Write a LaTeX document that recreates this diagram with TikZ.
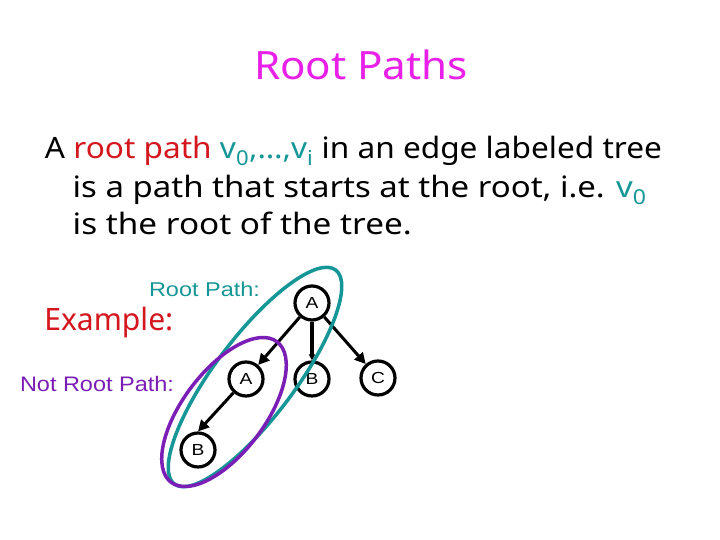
\documentclass[tikz,border=0pt]{standalone}
\usepackage{fontspec}
\setmainfont{Noto Sans}
\newfontfamily\arialf{Liberation Sans}
\usetikzlibrary{arrows.meta}
\definecolor{ttlc}{RGB}{232,32,232}
\definecolor{redc}{RGB}{212,22,30}
\definecolor{tealc}{RGB}{22,150,150}
\definecolor{purc}{RGB}{122,30,182}
\tikzset{
  txt/.style={anchor=base west, inner sep=0pt, outer sep=0pt},
  vtx/.style={circle, draw=black, line width=3.2pt, minimum size=34pt, inner sep=0pt, font=\arialf\fontsize{16}{16}\selectfont},
  arr/.style={line width=3pt, -{Triangle[length=11pt,width=11pt]}},
  ring/.style={line width=3.5pt}
}
\newcommand\hfit[2]{\resizebox{#1}{\height}{#2}}
\begin{document}
\begin{tikzpicture}[x=1pt,y=-1pt]
\useasboundingbox[fill=white] (0,0) rectangle (720,540);
% title
\node[txt] (title) at (254,80) {\fontsize{39}{39}\selectfont\hfit{214pt}{\color{ttlc}Root Paths}};
% body
\node[txt] (l1) at (45,159) {\fontsize{29.4}{30}\selectfont\hfit{617pt}{A \textcolor{redc}{root path} \textcolor{tealc}{v\textsubscript{0},…,v\textsubscript{i}} in an edge labeled tree}};
\node[txt] (l2) at (72.7,197.7) {\fontsize{29.4}{30}\selectfont\hfit{574pt}{is a path that starts at the root, i.e. \textcolor{tealc}{v\textsubscript{0}}}};
\node[txt] (l3) at (72.7,235) {\fontsize{29.4}{30}\selectfont\hfit{339pt}{is the root of the tree.}};
\node[txt] (ex) at (44.3,330) {\fontsize{30.8}{31}\selectfont\hfit{129pt}{\color{redc}Example:}};
\node[txt] (rp) at (149,296) {\arialf\fontsize{20}{20}\selectfont\hfit{111pt}{\color{tealc}Root Path:}};
\node[txt] (nrp) at (20,391.7) {\arialf\fontsize{21}{21}\selectfont\hfit{154pt}{\color{purc}Not Root Path:}};
% tree
\node[vtx] (r) at (312,303) {\scalebox{1.2}[1]{A}};
\node[vtx] (a1) at (246,379) {\scalebox{1.2}[1]{A}};
\node[vtx] (b1) at (312,379) {\scalebox{1.2}[1]{B}};
\node[vtx] (c1) at (378,378) {\scalebox{1.2}[1]{C}};
\node[vtx] (b2) at (198,450) {\scalebox{1.2}[1]{B}};
\draw[arr] (r) -- (a1);
\draw[line width=4pt, -{Triangle[length=6pt,width=6pt]}] (r) -- (b1);
\draw[arr] (r) -- (c1);
\draw[arr] (a1) -- (b2.north);
% rings
\draw[ring, draw=tealc, rotate around={53:(255,377)}] (255,377) ellipse [x radius=134pt, y radius=40pt];
\draw[ring, draw=purc, rotate around={53:(224,412)}] (224,412) ellipse [x radius=88pt, y radius=41pt];
\end{tikzpicture}
\end{document}
